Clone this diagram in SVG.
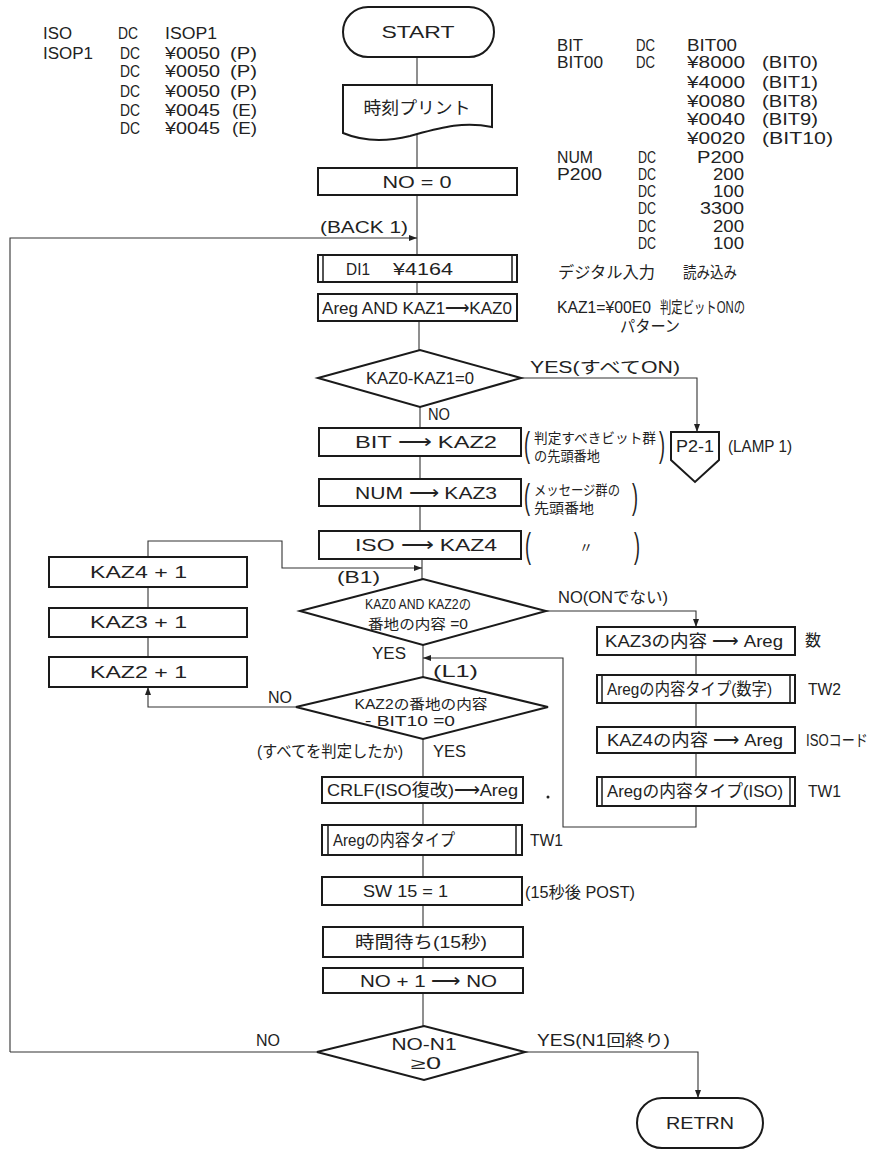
<svg xmlns="http://www.w3.org/2000/svg" width="880" height="1151" viewBox="0 0 880 1151">
<defs>
<marker id="ah" markerWidth="8" markerHeight="6" refX="8" refY="3" orient="auto" markerUnits="userSpaceOnUse">
<path d="M0,0 L8,3 L0,6 z" fill="#222"/>
</marker>
<style>
text{font-family:"Liberation Sans","Noto Sans CJK JP",sans-serif;fill:#222;}
.t{font-size:16px}
.b{font-size:17px}
.s{font-size:14px}
.box{fill:#fff;stroke:#1a1a1a;stroke-width:2}
.pl{stroke:#1a1a1a;stroke-width:1.5;fill:none}
.c{fill:none;stroke:#333;stroke-width:1.1}
.m{text-anchor:middle}
.e{text-anchor:end}
.par{font-size:36px}
</style>
</defs>
<rect width="880" height="1151" fill="#fff"/>

<g id="listing-left" class="t">
<text x="43" y="39" textLength="29" lengthAdjust="spacingAndGlyphs">ISO</text>
<text x="118" y="39" textLength="20" lengthAdjust="spacingAndGlyphs">DC</text>
<text x="165" y="39" textLength="52" lengthAdjust="spacingAndGlyphs">ISOP1</text>
<text x="43" y="59" textLength="50" lengthAdjust="spacingAndGlyphs">ISOP1</text>
<text x="120" y="59" textLength="20" lengthAdjust="spacingAndGlyphs">DC</text>
<text x="165" y="59" textLength="55" lengthAdjust="spacingAndGlyphs">¥0050</text>
<text x="230" y="59" textLength="27" lengthAdjust="spacingAndGlyphs">(P)</text>
<text x="120" y="77" textLength="20" lengthAdjust="spacingAndGlyphs">DC</text>
<text x="165" y="77" textLength="55" lengthAdjust="spacingAndGlyphs">¥0050</text>
<text x="230" y="77" textLength="27" lengthAdjust="spacingAndGlyphs">(P)</text>
<text x="120" y="97" textLength="20" lengthAdjust="spacingAndGlyphs">DC</text>
<text x="165" y="97" textLength="55" lengthAdjust="spacingAndGlyphs">¥0050</text>
<text x="230" y="97" textLength="27" lengthAdjust="spacingAndGlyphs">(P)</text>
<text x="120" y="116" textLength="20" lengthAdjust="spacingAndGlyphs">DC</text>
<text x="165" y="116" textLength="55" lengthAdjust="spacingAndGlyphs">¥0045</text>
<text x="232" y="116" textLength="25" lengthAdjust="spacingAndGlyphs">(E)</text>
<text x="120" y="134" textLength="20" lengthAdjust="spacingAndGlyphs">DC</text>
<text x="165" y="134" textLength="55" lengthAdjust="spacingAndGlyphs">¥0045</text>
<text x="232" y="134" textLength="25" lengthAdjust="spacingAndGlyphs">(E)</text>
</g>

<g id="listing-right" class="t">
<text x="557" y="51" textLength="26" lengthAdjust="spacingAndGlyphs">BIT</text>
<text x="636" y="51" textLength="19" lengthAdjust="spacingAndGlyphs">DC</text>
<text x="687" y="51" textLength="50" lengthAdjust="spacingAndGlyphs">BIT00</text>
<text x="557" y="68" textLength="46" lengthAdjust="spacingAndGlyphs">BIT00</text>
<text x="636" y="68" textLength="19" lengthAdjust="spacingAndGlyphs">DC</text>
<text x="687" y="68" textLength="58" lengthAdjust="spacingAndGlyphs">¥8000</text>
<text x="762" y="68" textLength="56" lengthAdjust="spacingAndGlyphs">(BIT0)</text>
<text x="687" y="88" textLength="58" lengthAdjust="spacingAndGlyphs">¥4000</text>
<text x="762" y="88" textLength="56" lengthAdjust="spacingAndGlyphs">(BIT1)</text>
<text x="687" y="107" textLength="58" lengthAdjust="spacingAndGlyphs">¥0080</text>
<text x="762" y="107" textLength="56" lengthAdjust="spacingAndGlyphs">(BIT8)</text>
<text x="687" y="125" textLength="58" lengthAdjust="spacingAndGlyphs">¥0040</text>
<text x="762" y="125" textLength="56" lengthAdjust="spacingAndGlyphs">(BIT9)</text>
<text x="687" y="144" textLength="58" lengthAdjust="spacingAndGlyphs">¥0020</text>
<text x="762" y="144" textLength="71" lengthAdjust="spacingAndGlyphs">(BIT10)</text>
<text x="557" y="163" textLength="36" lengthAdjust="spacingAndGlyphs">NUM</text>
<text x="638" y="163" textLength="18" lengthAdjust="spacingAndGlyphs">DC</text>
<text x="744" y="163" class="e" textLength="47" lengthAdjust="spacingAndGlyphs">P200</text>
<text x="557" y="180" textLength="45" lengthAdjust="spacingAndGlyphs">P200</text>
<text x="638" y="180" textLength="18" lengthAdjust="spacingAndGlyphs">DC</text>
<text x="744" y="180" class="e" textLength="31" lengthAdjust="spacingAndGlyphs">200</text>
<text x="638" y="197" textLength="18" lengthAdjust="spacingAndGlyphs">DC</text>
<text x="744" y="197" class="e" textLength="31" lengthAdjust="spacingAndGlyphs">100</text>
<text x="638" y="214" textLength="18" lengthAdjust="spacingAndGlyphs">DC</text>
<text x="744" y="214" class="e" textLength="44" lengthAdjust="spacingAndGlyphs">3300</text>
<text x="638" y="232" textLength="18" lengthAdjust="spacingAndGlyphs">DC</text>
<text x="744" y="232" class="e" textLength="31" lengthAdjust="spacingAndGlyphs">200</text>
<text x="638" y="249" textLength="18" lengthAdjust="spacingAndGlyphs">DC</text>
<text x="744" y="249" class="e" textLength="31" lengthAdjust="spacingAndGlyphs">100</text>
</g>

<g id="connectors" class="c">
<line x1="417" y1="57" x2="417" y2="85"/>
<line x1="417" y1="133" x2="417" y2="168"/>
<line x1="417" y1="195" x2="417" y2="255"/>
<polyline points="10,1052 10,238 417,238" marker-end="url(#ah)"/>
<line x1="417" y1="282" x2="417" y2="294"/>
<line x1="419" y1="321" x2="419" y2="350"/>
<polyline points="521,378 697,378 697,432" marker-end="url(#ah)"/>
<line x1="420" y1="407" x2="420" y2="428"/>
<line x1="420" y1="456" x2="420" y2="479"/>
<line x1="420" y1="506" x2="420" y2="531"/>
<line x1="422" y1="559" x2="422" y2="579"/>
<polyline points="148,557 148,541 282,541 282,568 422,568" marker-end="url(#ah)"/>
<polyline points="546,611 696,611 696,627" marker-end="url(#ah)"/>
<line x1="696" y1="655" x2="696" y2="675"/>
<line x1="696" y1="703" x2="696" y2="727"/>
<line x1="696" y1="753" x2="696" y2="777"/>
<polyline points="696,806 696,827 563,827 563,658 423,658" marker-end="url(#ah)"/>
<line x1="423" y1="645" x2="423" y2="677"/>
<polyline points="296,707 148,707 148,687" marker-end="url(#ah)"/>
<line x1="148" y1="657" x2="148" y2="637"/>
<line x1="148" y1="608" x2="148" y2="587"/>
<line x1="423" y1="739" x2="423" y2="777"/>
<line x1="423" y1="803" x2="423" y2="825"/>
<line x1="423" y1="855" x2="423" y2="877"/>
<line x1="423" y1="905" x2="423" y2="927"/>
<line x1="423" y1="957" x2="423" y2="968"/>
<line x1="423" y1="993" x2="423" y2="1026"/>
<line x1="317" y1="1052" x2="10" y2="1052"/>
<polyline points="525,1052 698,1052 698,1098" marker-end="url(#ah)"/>
</g>

<g id="start">
<rect class="box" x="343" y="7" width="151" height="50" rx="25"/>
<text class="b m" x="418" y="38" textLength="73" lengthAdjust="spacingAndGlyphs">START</text>
</g>
<g id="print">
<path class="box" d="M343,85 H492 V127 C462,121 440,128 410,136 C385,142 362,141 343,133 Z"/>
<text class="b m" x="417" y="114" textLength="107" lengthAdjust="spacingAndGlyphs">時刻プリント</text>
</g>
<g id="n0">
<rect class="box" x="318" y="168" width="199" height="27"/>
<text class="b m" x="417" y="188" textLength="69" lengthAdjust="spacingAndGlyphs">NO = 0</text>
</g>
<g id="di1">
<rect class="box" x="318" y="255" width="199" height="27"/>
<line class="pl" x1="323" y1="255" x2="323" y2="282"/>
<line class="pl" x1="512" y1="255" x2="512" y2="282"/>
<text class="b" x="346" y="275" textLength="24" lengthAdjust="spacingAndGlyphs">DI1</text>
<text class="b" x="393" y="275" textLength="60" lengthAdjust="spacingAndGlyphs">¥4164</text>
</g>
<g id="areg-and">
<rect class="box" x="318" y="294" width="199" height="27"/>
<text class="b" x="322" y="314" textLength="190" lengthAdjust="spacingAndGlyphs">Areg AND KAZ1⟶KAZ0</text>
</g>
<g id="d1">
<polygon class="box" points="318,378 420,350 521,378 420,407"/>
<text class="t m" x="420" y="384" textLength="108" lengthAdjust="spacingAndGlyphs">KAZ0-KAZ1=0</text>
</g>
<g id="p21">
<polygon class="box" points="671,432 719,432 719,460 695,482 671,460"/>
<text class="b m" x="695" y="452" textLength="38" lengthAdjust="spacingAndGlyphs">P2-1</text>
</g>
<g id="bit">
<rect class="box" x="319" y="428" width="202" height="28"/>
<text class="b" x="355" y="448" textLength="142" lengthAdjust="spacingAndGlyphs">BIT ⟶ KAZ2</text>
</g>
<g id="num">
<rect class="box" x="319" y="479" width="202" height="27"/>
<text class="b" x="355" y="499" textLength="142" lengthAdjust="spacingAndGlyphs">NUM ⟶ KAZ3</text>
</g>
<g id="iso">
<rect class="box" x="319" y="531" width="202" height="28"/>
<text class="b" x="355" y="551" textLength="142" lengthAdjust="spacingAndGlyphs">ISO ⟶ KAZ4</text>
</g>
<g id="kaz4p">
<rect class="box" x="49" y="557" width="198" height="30"/>
<text class="b" x="90" y="578" textLength="97" lengthAdjust="spacingAndGlyphs">KAZ4 + 1</text>
</g>
<g id="kaz3p">
<rect class="box" x="49" y="608" width="198" height="29"/>
<text class="b" x="90" y="628" textLength="97" lengthAdjust="spacingAndGlyphs">KAZ3 + 1</text>
</g>
<g id="kaz2p">
<rect class="box" x="49" y="657" width="198" height="30"/>
<text class="b" x="90" y="678" textLength="97" lengthAdjust="spacingAndGlyphs">KAZ2 + 1</text>
</g>
<g id="d2">
<polygon class="box" points="300,611 423,579 546,611 423,645"/>
<text class="s m" x="418" y="609" textLength="106" lengthAdjust="spacingAndGlyphs">KAZ0 AND KAZ2の</text>
<text class="s m" x="418" y="629" textLength="100" lengthAdjust="spacingAndGlyphs">番地の内容 =0</text>
</g>
<g id="kaz3c">
<rect class="box" x="597" y="627" width="198" height="28"/>
<text class="b" x="605" y="647" textLength="178" lengthAdjust="spacingAndGlyphs">KAZ3の内容 ⟶ Areg</text>
</g>
<g id="tw2">
<rect class="box" x="597" y="675" width="198" height="28"/>
<line class="pl" x1="602" y1="675" x2="602" y2="703"/>
<line class="pl" x1="790" y1="675" x2="790" y2="703"/>
<text class="b" x="607" y="695" textLength="165" lengthAdjust="spacingAndGlyphs">Aregの内容タイプ(数字)</text>
</g>
<g id="kaz4c">
<rect class="box" x="597" y="727" width="198" height="26"/>
<text class="b" x="607" y="746" textLength="176" lengthAdjust="spacingAndGlyphs">KAZ4の内容 ⟶ Areg</text>
</g>
<g id="tw1r">
<rect class="box" x="597" y="777" width="198" height="29"/>
<line class="pl" x1="602" y1="777" x2="602" y2="806"/>
<line class="pl" x1="790" y1="777" x2="790" y2="806"/>
<text class="b" x="607" y="797" textLength="176" lengthAdjust="spacingAndGlyphs">Aregの内容タイプ(ISO)</text>
</g>
<g id="d3">
<polygon class="box" points="296,707 423,677 548,707 423,739"/>
<text class="s m" x="421" y="709" textLength="133" lengthAdjust="spacingAndGlyphs">KAZ2の番地の内容</text>
<text class="s m" x="410" y="726" textLength="90" lengthAdjust="spacingAndGlyphs">- BIT10 =0</text>
</g>
<g id="crlf">
<rect class="box" x="322" y="777" width="201" height="26"/>
<text class="b" x="327" y="796" textLength="191" lengthAdjust="spacingAndGlyphs">CRLF(ISO復改)⟶Areg</text>
</g>
<g id="tw1">
<rect class="box" x="322" y="825" width="200" height="30"/>
<line class="pl" x1="328" y1="825" x2="328" y2="855"/>
<line class="pl" x1="516" y1="825" x2="516" y2="855"/>
<text class="b" x="333" y="846" textLength="122" lengthAdjust="spacingAndGlyphs">Aregの内容タイプ</text>
</g>
<g id="sw15">
<rect class="box" x="322" y="877" width="200" height="28"/>
<text class="b" x="363" y="897" textLength="85" lengthAdjust="spacingAndGlyphs">SW 15 = 1</text>
</g>
<g id="wait">
<rect class="box" x="323" y="927" width="200" height="30"/>
<text class="b" x="355" y="948" textLength="132" lengthAdjust="spacingAndGlyphs">時間待ち(15秒)</text>
</g>
<g id="inc">
<rect class="box" x="323" y="968" width="200" height="25"/>
<text class="b" x="360" y="987" textLength="137" lengthAdjust="spacingAndGlyphs">NO + 1 ⟶ NO</text>
</g>
<g id="d4">
<polygon class="box" points="317,1052 424,1026 525,1052 424,1080"/>
<text class="t m" x="424" y="1050" textLength="65" lengthAdjust="spacingAndGlyphs">NO-N1</text>
<text class="t m" x="426" y="1069" textLength="30" lengthAdjust="spacingAndGlyphs">≥0</text>
</g>
<g id="retrn">
<rect class="box" x="637" y="1098" width="126" height="50" rx="25"/>
<text class="b m" x="700" y="1129" textLength="68" lengthAdjust="spacingAndGlyphs">RETRN</text>
</g>

<g id="labels" class="t">
<text x="320" y="233" textLength="88" lengthAdjust="spacingAndGlyphs">(BACK 1)</text>
<text x="558" y="278" textLength="97" lengthAdjust="spacingAndGlyphs">デジタル入力</text>
<text x="683" y="278" textLength="54" lengthAdjust="spacingAndGlyphs">読み込み</text>
<text x="557" y="313" textLength="94" lengthAdjust="spacingAndGlyphs">KAZ1=¥00E0</text>
<text x="660" y="313" textLength="85" lengthAdjust="spacingAndGlyphs">判定ビットONの</text>
<text x="620" y="332" textLength="60" lengthAdjust="spacingAndGlyphs">パターン</text>
<text x="530" y="373" textLength="150" lengthAdjust="spacingAndGlyphs">YES(すべてON)</text>
<text x="428" y="420" textLength="22" lengthAdjust="spacingAndGlyphs">NO</text>
<text x="728" y="452" textLength="64" lengthAdjust="spacingAndGlyphs">(LAMP 1)</text>
<text class="par" transform="translate(524,457) scale(0.5,1)">(</text>
<text class="s" x="534" y="443" textLength="122" lengthAdjust="spacingAndGlyphs">判定すべきビット群</text>
<text class="s" x="534" y="461" textLength="66" lengthAdjust="spacingAndGlyphs">の先頭番地</text>
<text class="par" transform="translate(659,457) scale(0.5,1)">)</text>
<text class="par" transform="translate(524,509) scale(0.5,1)">(</text>
<text class="s" x="534" y="495" textLength="86" lengthAdjust="spacingAndGlyphs">メッセージ群の</text>
<text class="s" x="534" y="513" textLength="60" lengthAdjust="spacingAndGlyphs">先頭番地</text>
<text class="par" transform="translate(632,509) scale(0.5,1)">)</text>
<text class="par" transform="translate(525,558) scale(0.5,1)">(</text>
<text class="s" x="579" y="552">〃</text>
<text class="par" transform="translate(634,558) scale(0.5,1)">)</text>
<text x="337" y="583" textLength="43" lengthAdjust="spacingAndGlyphs">(B1)</text>
<text x="558" y="603" textLength="110" lengthAdjust="spacingAndGlyphs">NO(ONでない)</text>
<text x="805" y="646">数</text>
<text x="372" y="659" textLength="34" lengthAdjust="spacingAndGlyphs">YES</text>
<text x="433" y="677" textLength="45" lengthAdjust="spacingAndGlyphs">(L1)</text>
<text x="808" y="695" textLength="33" lengthAdjust="spacingAndGlyphs">TW2</text>
<text x="268" y="703" textLength="24" lengthAdjust="spacingAndGlyphs">NO</text>
<text x="806" y="746" textLength="62" lengthAdjust="spacingAndGlyphs">ISOコード</text>
<text x="257" y="757" textLength="146" lengthAdjust="spacingAndGlyphs">(すべてを判定したか)</text>
<text x="433" y="757" textLength="33" lengthAdjust="spacingAndGlyphs">YES</text>
<text x="808" y="797" textLength="33" lengthAdjust="spacingAndGlyphs">TW1</text>
<text x="530" y="846" textLength="33" lengthAdjust="spacingAndGlyphs">TW1</text>
<text x="525" y="898" textLength="110" lengthAdjust="spacingAndGlyphs">(15秒後 POST)</text>
<text x="256" y="1046" textLength="24" lengthAdjust="spacingAndGlyphs">NO</text>
<text x="537" y="1046" textLength="133" lengthAdjust="spacingAndGlyphs">YES(N1回終り)</text>
</g>
<circle cx="548" cy="797" r="1.5" fill="#222"/>
</svg>
